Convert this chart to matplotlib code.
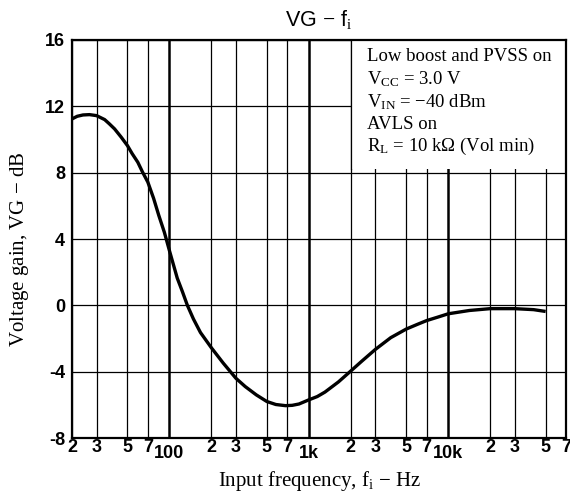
import matplotlib
matplotlib.use("Agg")
import matplotlib.pyplot as plt
import numpy as np

plt.rcParams['mathtext.fontset'] = 'custom'
plt.rcParams['mathtext.rm'] = 'Liberation Serif'
plt.rcParams['mathtext.it'] = 'Liberation Serif:italic'
plt.rcParams['mathtext.sf'] = 'Liberation Sans'

# Data
freq_hz = [20, 21.8, 24, 26.7, 30, 34.3, 37, 40.4, 45, 50, 54, 59.3, 64, 70, 77, 83.9,
           92, 100, 113.8, 124, 134.5, 148.6, 167, 200, 243, 300, 350, 420, 500,
           580, 680, 760, 850, 1000, 1150, 1306, 1630, 2000, 2390, 3000, 3870, 5000,
           6000, 7000, 8500, 10000, 14200, 20000, 30000, 41000, 50000]
gain_db = [11.24, 11.4, 11.48, 11.5, 11.44, 11.2, 10.95, 10.64, 10.15, 9.63, 9.15,
           8.63, 8.05, 7.43, 6.45, 5.42, 4.4, 3.3, 1.64, 0.82, 0.0, -0.82, -1.64, -2.56,
           -3.48, -4.4, -4.9, -5.4, -5.8, -5.98, -6.05, -6.03, -5.95, -5.7, -5.5,
           -5.23, -4.62, -3.96, -3.38, -2.66, -1.95, -1.43, -1.15, -0.92, -0.7, -0.51,
           -0.31, -0.2, -0.2, -0.26, -0.37]

xtick_vals = [20, 30, 50, 70, 100, 200, 300, 500, 700, 1000, 2000, 3000, 5000, 7000,
              10000, 20000, 30000, 50000, 70000]
xtick_labels = ['2', '3', '5', '7', '100', '2', '3', '5', '7', '1k', '2', '3', '5',
                '7', '10k', '2', '3', '5', '7']
ytick_vals = [-8, -4, 0, 4, 8, 12, 16]
ytick_labels = ['-8', '-4', '0', '4', '8', '12', '16']
decades = [100, 1000, 10000]

notes = ['Low boost and PVSS on',
         r'V$_{\mathrm{CC}}$ = 3.0 V',
         r'V$_{\mathrm{IN}}$ = $-$40 dBm',
         'AVLS on',
         r'R$_{\mathrm{L}}$ = 10 k$\Omega$ (Vol min)']

fig = plt.figure(figsize=(5.70, 4.94), dpi=100)
ax = fig.add_axes([72/570, 1-438/494, (566-72)/570, (438-40)/494])
ax.set_xscale('log')
ax.set_xlim(20, 70000)
ax.set_ylim(-8, 16)

# grid
for xv in xtick_vals:
    lw = 1.8 if xv in decades else 0.9
    ax.axvline(xv, color='black', lw=lw, zorder=1)
for yv in ytick_vals:
    ax.axhline(yv, color='black', lw=0.9, zorder=1)

# text box covering grid
ax.fill_between([2000*1.01, 70000], 8.25, 16, color='white', zorder=2, lw=0)
ax.axvline(2000, ymin=(8.25+8)/24, ymax=1, color='black', lw=0.9, zorder=3)

ax.plot(freq_hz, gain_db, color='black', lw=2.4, zorder=4, solid_capstyle='butt',
        solid_joinstyle='round')

for i, line in enumerate(notes):
    ax.text(0.598, 0.958 - i*0.0565, line, transform=ax.transAxes,
            family='Liberation Serif', fontsize=13.5, va='center', ha='left', zorder=5)

ax.set_xticks(xtick_vals)
ax.set_xticklabels(xtick_labels)
ax.xaxis.set_minor_locator(matplotlib.ticker.NullLocator())
ax.set_yticks(ytick_vals)
ax.set_yticklabels(ytick_labels)
ax.tick_params(axis='both', length=0, labelsize=13)
ax.tick_params(axis='x', pad=1)
ax.tick_params(axis='y', pad=5)
for lbl in ax.get_xticklabels() + ax.get_yticklabels():
    lbl.set_family('Liberation Sans')
    lbl.set_fontweight('bold')
for t, v in zip(ax.xaxis.get_major_ticks(), xtick_vals):
    if v in decades:
        t.set_pad(5)

for s in ax.spines.values():
    s.set_linewidth(1.6)
    s.set_zorder(6)

ax.set_xlabel(r'Input frequency, f$_{\mathrm{i}}$ $-$ Hz', family='Liberation Serif',
              fontsize=15, labelpad=5)
ax.set_ylabel('Voltage gain, VG $-$ dB', family='Liberation Serif', fontsize=15)
ax.yaxis.set_label_coords(-0.083, 0.475)
ax.set_title(r'VG $-$ f$_{\mathrm{i}}$', family='Liberation Sans', fontsize=15.5, pad=10)

fig.savefig('out.png', dpi=100)
